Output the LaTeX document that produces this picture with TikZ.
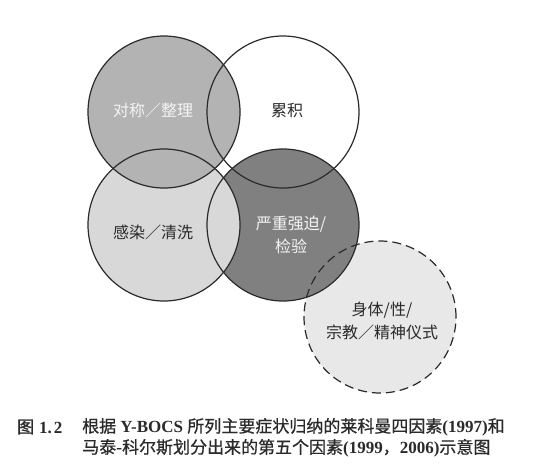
\documentclass[tikz,border=0pt]{standalone}
\usepackage{fontspec}
\setmainfont{Liberation Serif}
\newfontfamily\cjk{Noto Sans CJK SC}
\newfontfamily\cjkb[FakeBold=1.5]{Noto Sans CJK SC}
\newfontfamily\cjkm[FakeBold=0.6]{Noto Sans CJK SC}
\definecolor{fillA}{HTML}{B3B3B3}
\definecolor{fillB}{HTML}{D8D8D8}
\definecolor{fillC}{HTML}{808080}
\definecolor{fillD}{HTML}{E8E8E8}
\definecolor{ink}{HTML}{2A2A2A}
\definecolor{paleink}{HTML}{F4F4F4}
\tikzset{
  disc/.style={circle, minimum size=152pt, inner sep=0pt, draw=none},
  rim/.style={draw=ink, line width=1.2pt},
  dashrim/.style={draw=ink, line width=1.2pt, dash pattern=on 9pt off 5pt},
  lab/.style={font=\cjk\fontsize{16}{23}\selectfont, text=ink, align=center, inner sep=0pt},
  wlab/.style={lab, text=paleink},
  captext/.style={font=\fontsize{17}{20}\selectfont, text=ink, inner sep=0pt, anchor=west}
}
\begin{document}
\begin{tikzpicture}[x=1pt,y=-1pt]
\useasboundingbox (0,0) rectangle (553,469);
\fill[white] (0,0) rectangle (553,469);
% fills in stacking order
\node[disc, fill=white] (tr) at (283,112) {};
\node[disc, fill=fillD] (dc) at (380,317) {};
\node[disc, fill=fillC] (br) at (283,225) {};
\node[disc, fill=fillB] (bl) at (164,225) {};
\node[disc, fill=fillA] (tl) at (164,112) {};
% outlines
\draw[rim] (tr.center) circle (76pt);
\draw[rim] (tl.center) circle (76pt);
\draw[rim] (bl.center) circle (76pt);
\draw[rim] (br.center) circle (76pt);
\draw[dashrim] (dc.center) circle (76pt);
% labels
\node[wlab] (tltext) at (153,110) {对称／整理};
\node[lab] (trtext) at (287,110) {累积};
\node[lab] (bltext) at (153,232) {感染／清洗};
\node[wlab] (brtext) at (291,235) {严重强迫/\\检验};
\node[lab] (dctext) at (382,321) {身体/性/\\宗教／精神仪式};
% caption
\node[captext] (capnum) at (17,427) {{\cjkb 图}\kern5pt\textbf{1.\kern2pt2}};
\node[captext] (cap1) at (82,427) {{\cjkm 根据} \textbf{Y-BOCS} {\cjkm 所列主要症状归纳的莱科曼四因素}\textbf{(1997)}{\cjkm 和}};
\node[captext] (cap2) at (82,448) {{\cjkm 马泰-科尔斯划分出来的第五个因素}\textbf{(1999}{\cjkm ，}\textbf{2006)}{\cjkm 示意图}};
\end{tikzpicture}
\end{document}
